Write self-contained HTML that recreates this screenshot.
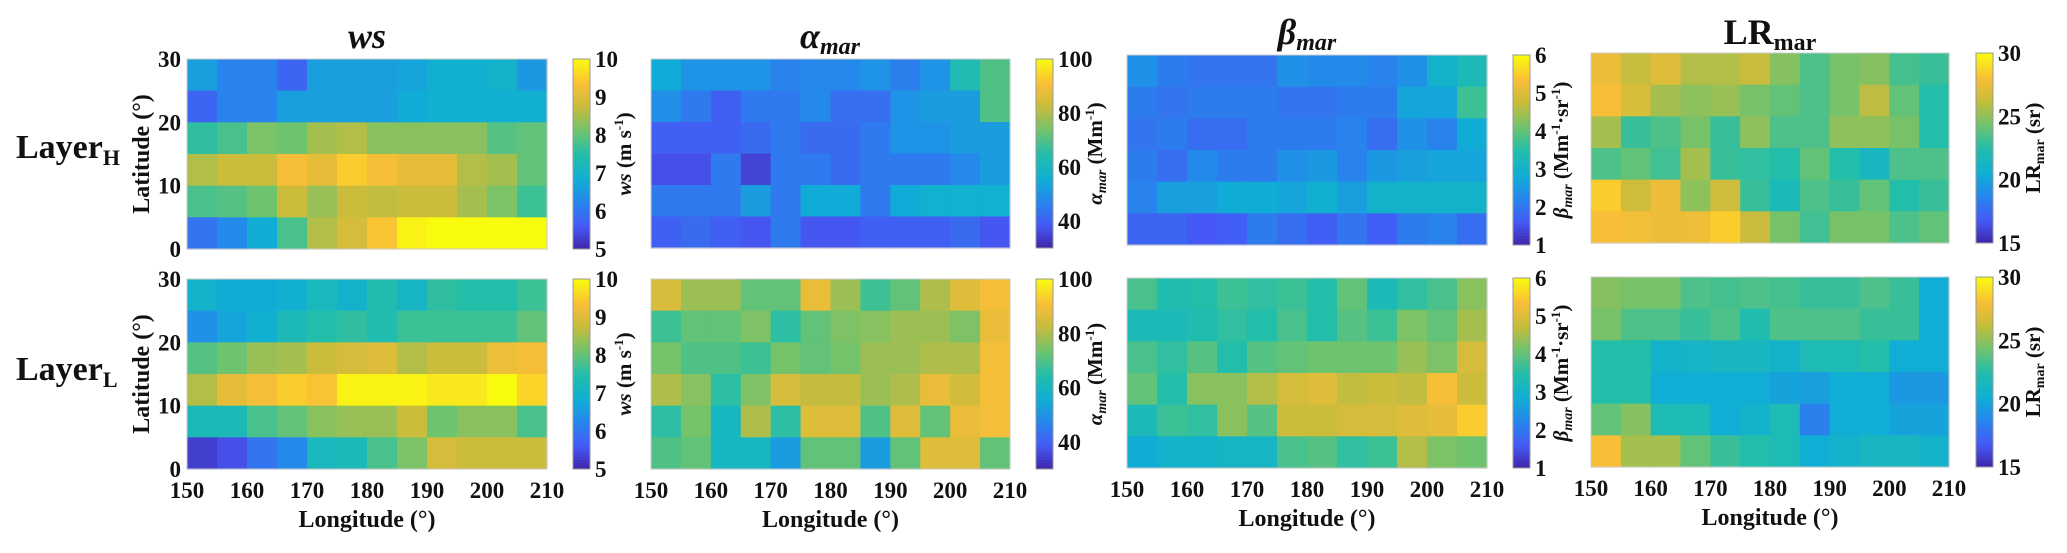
<!DOCTYPE html>
<html><head><meta charset="utf-8">
<style>
body{margin:0;background:#fff;}
svg text{font-family:"Liberation Serif",serif;font-weight:bold;fill:#111;}
</style></head>
<body>
<svg id="fig" width="2067" height="548" xmlns="http://www.w3.org/2000/svg">
<text x="367" y="48" font-size="36" text-anchor="middle" font-style="italic">ws</text>
<text x="830" y="48" font-size="36" text-anchor="middle" font-style="italic">α<tspan font-size="24" dy="6">mar</tspan></text>
<text x="1307" y="44" font-size="36" text-anchor="middle" font-style="italic">β<tspan font-size="24" dy="6">mar</tspan></text>
<text x="1770" y="44" font-size="36" text-anchor="middle">LR<tspan font-size="24" dy="6">mar</tspan></text>
<text x="16" y="158" font-size="34">Layer<tspan font-size="22" dy="7">H</tspan></text>
<text x="16" y="380" font-size="34">Layer<tspan font-size="22" dy="7">L</tspan></text>
</svg>
<script>
const lonTicks=[150,160,170,180,190,200,210];
const latTicks=[0,10,20,30];
const wsH=[[6.6,6.2,6.2,5.8,6.6,6.6,6.6,6.7,6.9,6.9,7.0,6.5],[5.8,6.2,6.2,6.6,6.6,6.6,6.6,6.8,6.9,6.9,6.9,6.9],[7.6,7.8,8.2,8.1,8.5,8.6,8.3,8.3,8.3,8.3,7.9,8.0],[8.6,8.8,8.8,9.3,9.1,9.5,9.3,9.1,9.1,8.6,8.5,8.0],[7.8,7.9,8.1,8.8,8.4,8.8,8.7,8.8,8.8,8.5,8.2,7.7],[6.0,6.3,6.8,7.8,8.6,8.9,9.4,9.9,10,10,10,10]];
const wsL=[[7.0,6.8,6.8,6.9,7.2,7.0,7.4,7.1,7.6,7.5,7.5,7.7],[6.4,6.7,6.9,7.3,7.5,7.6,7.4,7.7,7.7,7.7,7.7,8.0],[7.9,8.1,8.4,8.5,8.8,8.9,9.0,8.6,8.8,8.8,9.2,9.3],[8.6,9.1,9.3,9.5,9.4,9.9,9.9,9.9,9.8,9.8,10,9.6],[7.3,7.3,7.8,8.0,8.3,8.4,8.4,8.8,8.1,8.3,8.3,7.8],[5.3,5.5,6.0,6.3,7.2,7.3,7.8,8.2,8.9,8.8,8.8,8.8]];
const alH=[[55,50,50,50,47,48,48,50,46,50,63,70],[49,45,40,45,45,48,43,43,50,52,52,70],[40,40,40,42,45,42,42,45,50,50,52,52],[37,37,45,35,45,45,42,45,45,45,48,52],[45,45,45,52,45,55,55,45,55,57,57,57],[40,42,40,38,45,38,38,40,40,40,42,38]];
const alL=[[85,78,78,72,72,88,78,68,72,80,86,90],[68,72,72,75,66,72,75,76,78,78,75,88],[74,70,70,68,74,72,74,78,78,80,80,90],[80,76,66,75,85,82,82,78,80,88,84,90],[66,74,60,80,66,86,86,70,86,72,88,90],[70,72,60,60,52,72,72,52,72,86,86,72]];
const beH=[[2.4,2.1,2.0,2.0,2.0,2.4,2.3,2.3,2.2,2.4,3.0,3.3],[2.1,2.0,2.1,2.1,2.1,2.0,2.0,2.1,2.1,2.7,2.7,3.7],[2.0,2.1,1.9,1.9,2.1,2.1,2.1,2.2,1.9,2.4,2.2,2.8],[2.1,1.9,2.3,2.1,2.1,2.4,2.5,2.2,2.5,2.6,2.7,2.7],[2.2,2.6,2.6,2.8,2.8,2.7,2.9,2.6,3.0,3.0,3.0,3.0],[1.8,1.8,1.6,1.7,2.1,1.9,1.7,2.0,1.7,2.1,2.2,1.9]];
const beL=[[3.8,3.4,3.5,3.7,3.6,3.7,3.5,4.0,3.3,3.6,3.8,4.3],[3.3,3.3,3.4,3.6,3.5,3.8,3.5,3.9,3.7,4.2,4.0,4.5],[3.8,3.6,3.9,3.5,3.9,4.0,4.1,4.1,4.1,4.4,4.2,4.9],[4.0,3.5,4.3,4.3,4.6,4.9,5.0,4.7,4.8,4.7,5.3,4.8],[3.3,3.7,3.6,4.3,3.9,4.8,4.8,4.9,4.9,5.0,5.1,5.5],[2.8,3.0,3.0,3.1,3.1,3.8,3.9,3.6,3.7,4.6,4.2,4.1]];
const lrH=[[27.5,26.2,27,25.8,25.8,26.3,24.8,23.5,24.5,24.8,23.3,23.0],[28,26.8,25.5,25,25.2,24.5,24,23.5,24.5,26,24,22.5],[25.5,23,23.5,24.5,23,25,23.5,23.5,25,25,24.5,22.5],[23.5,24,23.2,25.5,23,22.8,22.5,24,22.5,21.5,23.5,23.5],[28.5,26.5,27.5,25,26.5,23,21.8,23.5,23,24,22.5,23],[28,27.8,27.5,27.6,28.5,26.3,24.5,23.2,24.5,24.5,23.5,24]];
const lrL=[[24.8,24.5,24.5,23.5,23.3,23.5,23.3,23,23,23.5,23,20.5],[24.5,23.5,23.5,23,23.5,22.2,23.5,23.5,23.5,23,23,20.5],[22.5,22.5,21,21.2,21.5,21.5,21,22,22,22.5,20.5,20.5],[22.5,22.5,20.5,20.5,20.5,20.5,20,19.8,20.5,20.5,19.5,19.5],[24,24.8,22,22,20.5,21,22,18.5,20.5,20.5,20,20],[28,25.5,25.5,24,23,22.5,22,20.5,21,21.5,21.5,21]];
const wsCb=[5,6,7,8,9,10];
const alCb=[40,60,80,100];
const beCb=[1,2,3,4,5,6];
const lrCb=[15,20,25,30];

const NS="http://www.w3.org/2000/svg";
const svg=document.getElementById('fig');
const stops=[[0,62,38,168],[0.12,70,88,245],[0.25,38,135,236],[0.37,15,175,212],[0.5,35,190,170],[0.62,110,195,110],[0.75,200,188,60],[0.87,250,190,55],[1,249,251,14]];
function parula(t){t=Math.max(0,Math.min(1,t));for(let i=1;i<stops.length;i++){if(t<=stops[i][0]){const a=stops[i-1],b=stops[i],f=(t-a[0])/(b[0]-a[0]);return `rgb(${Math.round(a[1]+f*(b[1]-a[1]))},${Math.round(a[2]+f*(b[2]-a[2]))},${Math.round(a[3]+f*(b[3]-a[3]))})`;}}return 'rgb(249,251,14)';}
function mk(tag,attrs,parent){const e=document.createElementNS(NS,tag);for(const k in attrs)e.setAttribute(k,attrs[k]);(parent||svg).appendChild(e);return e;}
function txt(x,y,s,size,anchor,parent){const t=mk('text',{x:x,y:y,'font-size':size,'text-anchor':anchor||'middle'},parent);t.textContent=s;return t;}

function heatmap(name,data,x0,x1,y0,y1,vmin,vmax,showY,showX){
  const g=mk('g',{});
  
  
  const xs=v=>x0+(v-150)/60*(x1-x0);
  const ys=v=>y1-(v/30)*(y1-y0);
  data.forEach((row,r)=>row.forEach((v,c)=>{
    const lon=150+c*5, lat=30-r*5;
    const rc=mk('rect',{x:xs(lon),y:ys(lat),width:xs(lon+5)-xs(lon)+0.6,height:ys(lat-5)-ys(lat)+0.6,fill:parula((v-vmin)/(vmax-vmin))},g);
    
    
  }));
  mk('rect',{x:x0,y:y0,width:x1-x0,height:y1-y0,fill:'none',stroke:'#ccc','stroke-width':1},g);
  if(showY){
    latTicks.forEach(v=>{const t=txt(x0-6,ys(v)+8,String(v),23,'end',g);});
    const yl=txt(0,0,'Latitude (°)',24,'middle',g);
    yl.setAttribute('transform',`translate(149,${(y0+y1)/2}) rotate(-90)`);
    
    
  }
  if(showX){
    lonTicks.forEach(v=>{const t=txt(xs(v),y1+29,String(v),23,'middle',g);});
    const xl=txt((x0+x1)/2,y1+58,'Longitude (°)',24,'middle',g);
    
    
  }
}
function colorbar(name,x,y0,y1,vmin,vmax,ticks,labelParts,lx){
  const g=mk('g',{});
  
  
  const n=60;
  for(let i=0;i<n;i++){
    mk('rect',{x:x,y:y1-(i+1)*(y1-y0)/n,width:17,height:(y1-y0)/n+0.5,fill:parula((i+0.5)/n)},g);
  }
  mk('rect',{x:x,y:y0,width:17,height:y1-y0,fill:'none',stroke:'#999','stroke-width':1},g);
  ticks.forEach(v=>{const yy=y1-(v-vmin)/(vmax-vmin)*(y1-y0);const t=txt(x+22,yy+8,String(v),23,'start',g);});
  const lab=mk('text',{'font-size':21,'text-anchor':'middle',transform:`translate(${lx},${(y0+y1)/2}) rotate(-90)`},g);
  
  
  labelParts.forEach(p=>{const s=mk('tspan',p.a||{},lab);s.textContent=p.t;});
}
const wsLab=[{t:'ws',a:{'font-style':'italic'}},{t:' (m s'},{t:'-1',a:{'font-size':13,dy:-8}},{t:')',a:{dy:8}}];
const alLab=[{t:'α',a:{'font-style':'italic'}},{t:'mar',a:{'font-style':'italic','font-size':14,dy:4}},{t:' (Mm',a:{dy:-4}},{t:'-1',a:{'font-size':13,dy:-8}},{t:')',a:{dy:8}}];
const beLab=[{t:'β',a:{'font-style':'italic'}},{t:'mar',a:{'font-style':'italic','font-size':14,dy:4}},{t:' (Mm',a:{dy:-4}},{t:'-1',a:{'font-size':13,dy:-8}},{t:'·sr',a:{dy:8}},{t:'-1',a:{'font-size':13,dy:-8}},{t:')',a:{dy:8}}];
const lrLab=[{t:'LR'},{t:'mar',a:{'font-size':14,dy:4}},{t:' (sr)',a:{dy:-4}}];

heatmap('ws-layer-h-heatmap',wsH,187,547,59,249,5,10,true,false);
heatmap('ws-layer-l-heatmap',wsL,187,547,279,469,5,10,true,true);
heatmap('alpha-layer-h-heatmap',alH,651,1010,59,248,30,100,false,false);
heatmap('alpha-layer-l-heatmap',alL,651,1010,279,469,30,100,false,true);
heatmap('beta-layer-h-heatmap',beH,1127,1487,55,245,1,6,false,false);
heatmap('beta-layer-l-heatmap',beL,1127,1487,278,468,1,6,false,true);
heatmap('lr-layer-h-heatmap',lrH,1591,1949,53,243,15,30,false,false);
heatmap('lr-layer-l-heatmap',lrL,1591,1949,277,467,15,30,false,true);

colorbar('ws-h-colorbar',573,59,249,5,10,wsCb,wsLab,631);
colorbar('ws-l-colorbar',573,279,469,5,10,wsCb,wsLab,631);
colorbar('alpha-h-colorbar',1036,59,248,30,100,alCb,alLab,1102);
colorbar('alpha-l-colorbar',1036,279,469,30,100,alCb,alLab,1102);
colorbar('beta-h-colorbar',1513,55,245,1,6,beCb,beLab,1568);
colorbar('beta-l-colorbar',1513,278,468,1,6,beCb,beLab,1568);
colorbar('lr-h-colorbar',1976,53,243,15,30,lrCb,lrLab,2040);
colorbar('lr-l-colorbar',1976,277,467,15,30,lrCb,lrLab,2040);
</script>
</body></html>
